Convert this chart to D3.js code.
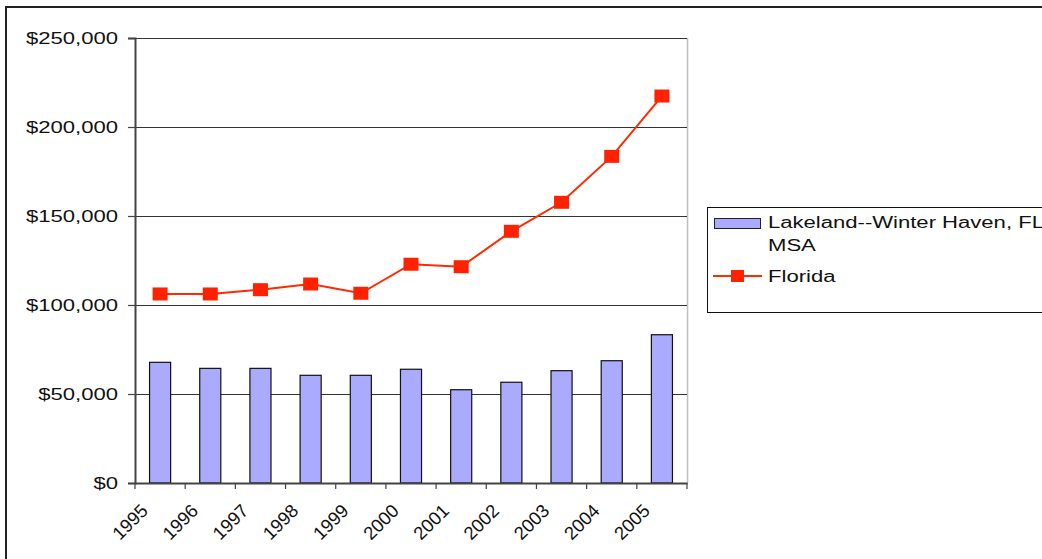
<!DOCTYPE html>
<html><head><meta charset="utf-8">
<script src="https://cdn.jsdelivr.net/npm/d3@7"></script>
<style>html,body{margin:0;padding:0;background:#fff;}svg{display:block;}text{font-family:"Liberation Sans",Arial,sans-serif;fill:#111;}</style>
</head><body>
<svg id="chart" width="1042" height="559"></svg>
<script>
const years = ["1995","1996","1997","1998","1999","2000","2001","2002","2003","2004","2005"];
const lakeland = [67800,64400,64400,60500,60500,63900,52400,56600,63100,68700,83300];
const florida = [106200,106200,108600,111800,106600,122900,121500,141400,157700,183500,217400];
const yTicks = [0,50000,100000,150000,200000,250000];
const seriesNames = ["Lakeland--Winter Haven, FL", "MSA", "Florida"];

const SX = 1.38; // horizontal stretch of text
const svg = d3.select("#chart");
const pLeft = 135, pRight = 687, pTop = 38, pBottom = 483;

// outer border
svg.append("rect").attr("x",6).attr("y",7).attr("width",1100).attr("height",600)
  .attr("fill","#fff").attr("stroke","#222").attr("stroke-width",2);

const x = d3.scaleBand().domain(years).range([pLeft,pRight]).paddingInner(0.58).paddingOuter(0.29);
const xb = d3.scaleBand().domain(years).range([pLeft,pRight]);
const y = d3.scaleLinear().domain([0,250000]).range([pBottom,pTop]);

// plot area right border
svg.append("line").attr("x1",pRight+0.5).attr("x2",pRight+0.5).attr("y1",pTop).attr("y2",pBottom)
  .attr("stroke","#c0c0c0").attr("stroke-width",1.5);

// gridlines
svg.append("g").selectAll("line").data(yTicks.filter(d=>d>0)).join("line")
  .attr("x1",pLeft).attr("x2",pRight)
  .attr("y1",d=>Math.round(y(d))+0.5).attr("y2",d=>Math.round(y(d))+0.5)
  .attr("stroke","#333").attr("stroke-width",1);

// bars
svg.append("g").selectAll("rect").data(lakeland).join("rect")
  .attr("x",(d,i)=>x(years[i])).attr("width",x.bandwidth())
  .attr("y",d=>y(d)).attr("height",d=>pBottom-y(d))
  .attr("fill","#aaaaff").attr("stroke","#111").attr("stroke-width",1.2);

// y axis
const yAxis = svg.append("g").attr("transform",`translate(${pLeft},0)`)
  .call(d3.axisLeft(y).tickValues(yTicks).tickSize(7).tickFormat(()=>""));
yAxis.select(".domain").attr("stroke","#444").attr("stroke-width",2);
yAxis.selectAll(".tick line").attr("stroke","#444").attr("stroke-width",1.2);
svg.append("g").selectAll("g").data(yTicks).join("g")
  .attr("transform",d=>`translate(118,${y(d)+6}) scale(${SX},1)`)
  .append("text").attr("text-anchor","end").attr("font-size",16)
  .text(d=>"$"+d3.format(",")(d));

// x axis
const xAxis = svg.append("g").attr("transform",`translate(0,${pBottom})`)
  .call(d3.axisBottom(xb).tickSize(0).tickFormat(()=>""));
xAxis.select(".domain").attr("stroke","#444").attr("stroke-width",2);
const bounds = years.map(d=>xb(d)).concat([pRight]);
svg.append("g").selectAll("line").data(bounds).join("line")
  .attr("x1",d=>d).attr("x2",d=>d).attr("y1",pBottom).attr("y2",pBottom+6)
  .attr("stroke","#444").attr("stroke-width",1.2);
svg.append("g").selectAll("g").data(years).join("g")
  .attr("transform",d=>`translate(${xb(d)+xb.bandwidth()/2-11},${pBottom+29}) rotate(-45)`)
  .append("text").attr("text-anchor","end").attr("font-size",18.5).text(d=>d);

// line
const cx = d=>xb(d)+xb.bandwidth()/2;
svg.append("path").datum(florida)
  .attr("d",d3.line().x((d,i)=>cx(years[i])).y(d=>y(d)))
  .attr("fill","none").attr("stroke","#ff2a00").attr("stroke-width",2);
svg.append("g").selectAll("rect").data(florida).join("rect")
  .attr("x",(d,i)=>cx(years[i])-7.5).attr("y",d=>y(d)-6.5)
  .attr("width",15).attr("height",13).attr("fill","#ff2200");

// legend
svg.append("rect").attr("x",707.5).attr("y",207.5).attr("width",400).attr("height",105)
  .attr("fill","#fff").attr("stroke","#111").attr("stroke-width",1);
svg.append("rect").attr("x",714.5).attr("y",218.5).attr("width",46).attr("height",10)
  .attr("fill","#aaaaff").attr("stroke","#222").attr("stroke-width",1);
const lt = [[227.5,seriesNames[0]],[251,seriesNames[1]],[281.7,seriesNames[2]]];
svg.append("g").selectAll("g").data(lt).join("g")
  .attr("transform",d=>`translate(768,${d[0]}) scale(${SX},1)`)
  .append("text").attr("font-size",16).text(d=>d[1]);
svg.append("line").attr("x1",713).attr("x2",762).attr("y1",276).attr("y2",276)
  .attr("stroke","#ff2a00").attr("stroke-width",2);
svg.append("rect").attr("x",731).attr("y",270).attr("width",13).attr("height",12).attr("fill","#ff2200");
</script>
</body></html>
